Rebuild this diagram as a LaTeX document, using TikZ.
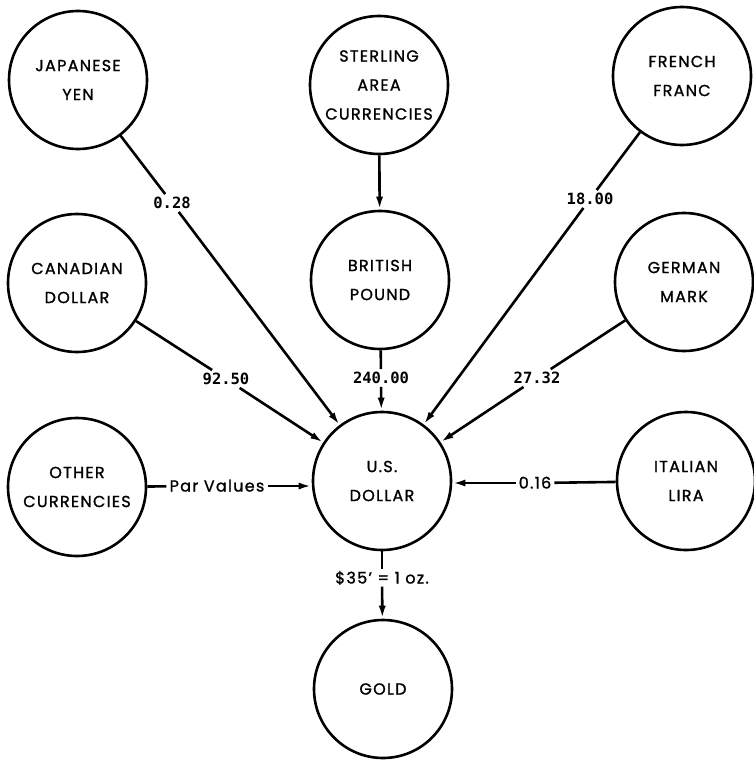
\documentclass[tikz,border=0pt]{standalone}
\usepackage{fontspec}
\setmainfont{Poppins}[LetterSpace=8,FakeBold=1.2]
\newfontfamily\labfont{DejaVu Sans Mono}
\usetikzlibrary{arrows.meta}
\begin{document}
\begin{tikzpicture}[x=1pt,y=-1pt,
  cur/.style={circle,draw,line width=2.6pt,minimum size=138pt,inner sep=0pt,align=center,font=\fontsize{16}{29}\selectfont},
  num/.style={inner sep=3pt,text height=11.5pt,text depth=0pt,font=\labfont\bfseries\fontsize{15.5}{15.5}\selectfont},
  txt/.style={inner sep=3pt,text height=11pt,text depth=0pt,font=\fontsize{16}{16}\selectfont},
  conn/.style={line width=2.6pt},
  arr/.style={conn,-{Latex[length=13pt,width=7pt]}}]
\fill[white] (0,0) rectangle (754,760);
\useasboundingbox (0,0) rectangle (754,760);

\node[cur] (yen)  at (78,80)   {JAPANESE\\YEN};
\node[cur] (ster) at (379,85)  {STERLING\\AREA\\CURRENCIES};
\node[cur] (fra)  at (682,76)  {FRENCH\\FRANC};
\node[cur] (cad)  at (77,283)  {CANADIAN\\DOLLAR};
\node[cur] (gbp)  at (380,280) {BRITISH\\POUND};
\node[cur] (dem)  at (684,282) {GERMAN\\MARK};
\node[cur] (oth)  at (77,487)  {OTHER\\CURRENCIES};
\node[cur] (usd)  at (382,481) {U.S.\\DOLLAR};
\node[cur] (ita)  at (686,481) {ITALIAN\\LIRA};
\node[cur] (gold) at (383,689) {GOLD};

\node[num] (l028)  at (172,203) {0.28};
\node[num] (l9250) at (226,379) {92.50};
\node[num] (l240)  at (381,378) {240.00};
\node[num] (l18)   at (590,199) {18.00};
\node[num] (l2732) at (537,378) {27.32};
\node[txt] (lpar)  at (217,486) {Par Values};
\node[txt] (l016)  at (535,483) {0.16};
\node[txt] (lgold) at (382,578) {\$35' = 1 oz.};

\draw[arr] (ster) -- (gbp);
\draw[conn] (gbp) -- (l240);
\draw[arr] (l240) -- (usd);
\draw[conn] (yen) -- (l028);
\draw[arr] (l028) -- (usd);
\draw[conn] (cad) -- (l9250);
\draw[arr] (l9250) -- (usd);
\draw[conn] (fra) -- (l18);
\draw[arr] (l18) -- (usd);
\draw[conn] (dem) -- (l2732);
\draw[arr] (l2732) -- (usd);
\draw[conn] (oth) -- (lpar);
\draw[arr] (lpar) -- (lpar -| usd.west);
\draw[conn] (ita) -- (l016);
\draw[arr] (l016) -- (l016 -| usd.east);
\draw[conn] (usd) -- (lgold);
\draw[arr] (lgold) -- (gold);
\end{tikzpicture}
\end{document}
